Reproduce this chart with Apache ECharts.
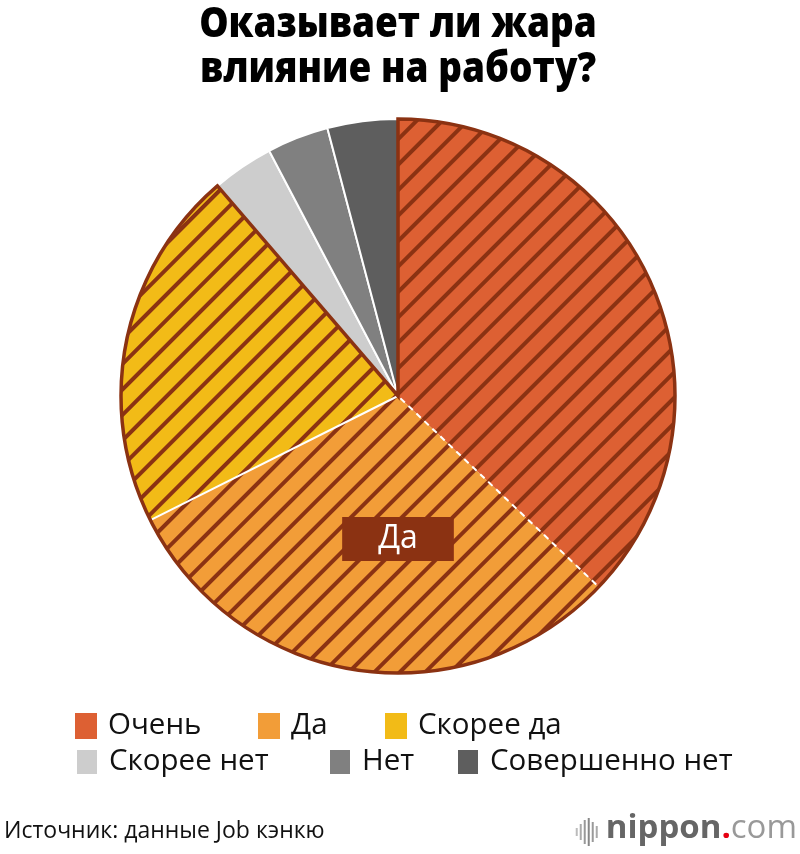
<!DOCTYPE html>
<html>
<head>
<meta charset="utf-8">
<script src="https://cdn.jsdelivr.net/npm/echarts@6/dist/echarts.min.js"></script>
<style>
  html, body { margin: 0; padding: 0; background: #fff; }
  #chart { width: 800px; height: 854px; }
</style>
</head>
<body>
<div id="chart"></div>
<script>
// data
const categories = ['Очень', 'Да', 'Скорее да', 'Скорее нет', 'Нет', 'Совершенно нет']
const values = [37.1, 30.5, 21.1, 3.6, 3.6, 4.1]
const hatched = [true, true, true, false, false, false]
const titleLines = ['Оказывает ли жара', 'влияние на работу?']
const sourceText = 'Источник: данные Job кэнкю'
const calloutText = 'Да'

// styles
const colors = ['#DD6033', '#F29D38', '#F2BB17', '#CDCDCD', '#808080', '#5E5E5E']
const brown = '#8B3212'
const center = [398, 396]
const radius = 277
const font = '"Open Sans", "Noto Sans", sans-serif'

const stripe = {
  symbol: 'rect',
  symbolSize: 1,
  color: brown,
  dashArrayX: [1, 0],
  dashArrayY: [4, 14],
  rotation: -Math.PI / 4
}

const yesSum = values.filter((v, i) => hatched[i]).reduce((a, b) => a + b, 0)
const noSum = values.filter((v, i) => !hatched[i]).reduce((a, b) => a + b, 0)

const pieBase = {
  type: 'pie',
  center: center,
  radius: [0, radius],
  startAngle: 90,
  clockwise: true,
  silent: true,
  animation: false,
  label: { show: false },
  labelLine: { show: false },
  emphasis: { disabled: true }
}

const chart = echarts.init(document.getElementById('chart'))

// legend positions (two rows)
const legendPos = [[75, 711], [258, 711], [385, 711], [75, 747], [328, 747], [456, 747]]

chart.setOption({
  backgroundColor: '#fff',
  legend: categories.map((name, i) => ({
    data: [name],
    left: legendPos[i][0],
    top: legendPos[i][1],
    padding: 0,
    icon: 'rect',
    itemWidth: 22,
    itemHeight: 26,
    selectedMode: false,
    textStyle: { fontSize: 29.5, fontFamily: font, color: '#111', padding: [0, 0, 0, 6] }
  })),
  series: [
    Object.assign({}, pieBase, {
      name: 'base',
      data: categories.map((name, i) => ({
        name: name,
        value: values[i],
        itemStyle: {
          color: colors[i],
          borderColor: '#fff',
          borderWidth: hatched[i] ? 0 : 2
        }
      }))
    }),
    Object.assign({}, pieBase, {
      name: 'hatch',
      data: categories.map((name, i) => ({
        name: 'h' + i,
        value: values[i],
        itemStyle: hatched[i]
          ? { color: 'rgba(0,0,0,0)', decal: stripe, borderWidth: 0 }
          : { color: 'rgba(0,0,0,0)', borderWidth: 0 }
      }))
    }),
    Object.assign({}, pieBase, {
      name: 'sep',
      data: categories.map((name, i) => {
        let st = { color: 'rgba(0,0,0,0)', borderWidth: 0 }
        if (i === 0) st = { color: 'rgba(0,0,0,0)', borderColor: '#fff', borderWidth: 2, borderType: [6, 5] }
        if (i === 2) st = { color: 'rgba(0,0,0,0)', borderColor: '#fff', borderWidth: 2 }
        return { name: 's' + i, value: values[i], itemStyle: st }
      })
    }),
    Object.assign({}, pieBase, {
      name: 'outline',
      data: [
        { name: 'yes', value: yesSum, itemStyle: { color: 'rgba(0,0,0,0)', borderColor: brown, borderWidth: 3.5, borderJoin: 'miter' } },
        { name: 'no', value: noSum, itemStyle: { color: 'rgba(0,0,0,0)', borderWidth: 0 } }
      ]
    })
  ],
  graphic: [
    {
      type: 'text',
      x: 398, y: 3,
      scaleX: 0.88,
      style: {
        text: titleLines.join('\n'),
        fill: '#000',
        font: '800 42px ' + font,
        align: 'center',
        lineHeight: 45
      }
    },
    {
      type: 'text',
      x: 398, y: 539,
      z: 100,
      style: {
        text: calloutText,
        fill: '#fff',
        font: '32px ' + font,
        align: 'center',
        verticalAlign: 'middle',
        backgroundColor: brown,
        padding: [7, 36, 5, 36]
      }
    },
    {
      type: 'text',
      left: 4, top: 820,
      style: { text: sourceText, fill: '#111', font: '23px ' + font }
    },
    {
      type: 'group',
      right: 3, top: 812,
      children: [
        { type: 'rect', shape: { x: 0, y: 12, width: 2, height: 8 }, style: { fill: '#bbb' } },
        { type: 'rect', shape: { x: 4, y: 8, width: 2, height: 16 }, style: { fill: '#aaa' } },
        { type: 'rect', shape: { x: 8, y: 4, width: 2, height: 24 }, style: { fill: '#999' } },
        { type: 'rect', shape: { x: 12, y: 2, width: 2, height: 28 }, style: { fill: '#888' } },
        { type: 'rect', shape: { x: 16, y: 6, width: 2, height: 20 }, style: { fill: '#999' } },
        { type: 'rect', shape: { x: 20, y: 10, width: 2, height: 12 }, style: { fill: '#aaa' } },
        {
          type: 'text',
          x: 30, y: -4,
          style: {
            text: '{a|nippon}{b|.}{c|com}',
            rich: {
              a: { font: 'bold 33px ' + font, fill: '#666' },
              b: { font: 'bold 33px ' + font, fill: '#e60012' },
              c: { font: '33px ' + font, fill: '#999' }
            }
          }
        }
      ]
    }
  ]
})
</script>
</body>
</html>
